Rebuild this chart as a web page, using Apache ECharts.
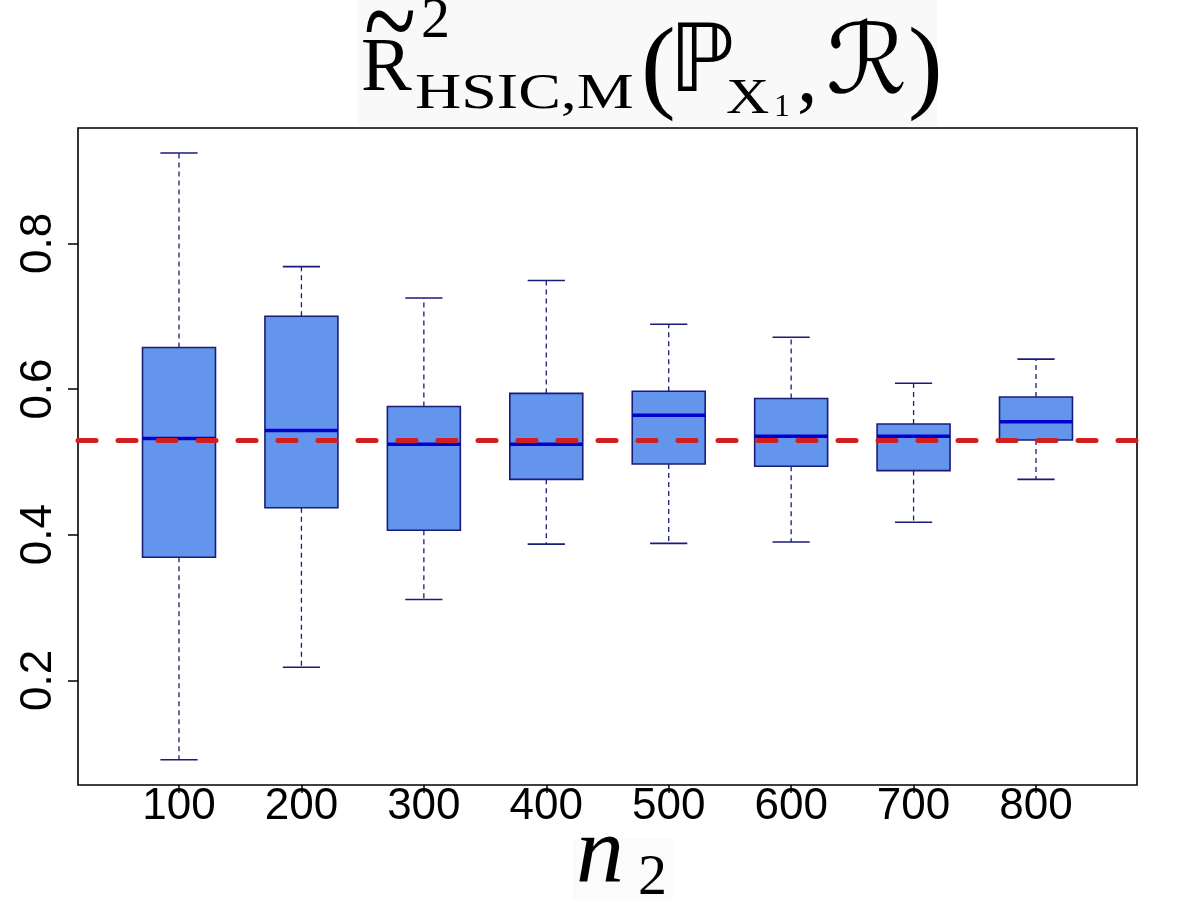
<!DOCTYPE html>
<html>
<head>
<meta charset="utf-8">
<script src="https://cdn.jsdelivr.net/npm/echarts@6/dist/echarts.min.js"></script>
<style>
  html, body { margin: 0; padding: 0; background: #fff; }
  #main { width: 1178px; height: 917px; }
</style>
</head>
<body>
<div id="main"></div>
<script>
// sample sizes n2
var categories = ['100', '200', '300', '400', '500', '600', '700', '800'];
// box statistics
var whiskerLow  = [0.091, 0.218, 0.311, 0.387, 0.388, 0.390, 0.417, 0.476];
var q1          = [0.369, 0.437, 0.406, 0.476, 0.497, 0.494, 0.488, 0.530];
var medians     = [0.532, 0.543, 0.524, 0.524, 0.564, 0.535, 0.535, 0.555];
var q3          = [0.657, 0.700, 0.576, 0.594, 0.597, 0.587, 0.552, 0.589];
var whiskerHigh = [0.924, 0.768, 0.725, 0.749, 0.689, 0.671, 0.608, 0.641];
var refValue = 0.534;
var yTicks = [0.2, 0.4, 0.6, 0.8];

var boxData = categories.map(function (c, i) {
    return [i, whiskerLow[i], q1[i], medians[i], q3[i], whiskerHigh[i]];
});
var tickIdx = categories.map(function (c, i) { return i; });

var navy = '#1b1b78';

function renderBox(params, api) {
    var i = api.value(0);
    var band = api.size([1, 0])[0];
    var half = band * 0.298;
    var cap = band * 0.152;
    var pMin = api.coord([i, api.value(1)]);
    var pQ1 = api.coord([i, api.value(2)]);
    var pMed = api.coord([i, api.value(3)]);
    var pQ3 = api.coord([i, api.value(4)]);
    var pMax = api.coord([i, api.value(5)]);
    var x = pMed[0];
    var dash = { stroke: navy, lineWidth: 1.3, lineDash: [5, 4] };
    var solid = { stroke: navy, lineWidth: 1.6 };
    return {
        type: 'group',
        children: [
            { type: 'line', shape: { x1: x, y1: pQ3[1], x2: x, y2: pMax[1] }, style: dash },
            { type: 'line', shape: { x1: x, y1: pQ1[1], x2: x, y2: pMin[1] }, style: dash },
            { type: 'line', shape: { x1: x - cap, y1: pMax[1], x2: x + cap, y2: pMax[1] }, style: solid },
            { type: 'line', shape: { x1: x - cap, y1: pMin[1], x2: x + cap, y2: pMin[1] }, style: solid },
            { type: 'rect', shape: { x: x - half, y: pQ3[1], width: half * 2, height: pQ1[1] - pQ3[1] },
              style: { fill: '#6495ED', stroke: navy, lineWidth: 1.6 } },
            { type: 'line', shape: { x1: x - half, y1: pMed[1], x2: x + half, y2: pMed[1] },
              style: { stroke: '#0000CD', lineWidth: 3.5 } }
        ]
    };
}

var serif = "'Liberation Serif', 'DejaVu Serif', serif";
var symFont = "'DejaVu Sans', 'DejaVu Serif', sans-serif";

var myChart = echarts.init(document.getElementById('main'));
var option = {
    backgroundColor: '#fff',
    animation: false,
    grid: {
        left: 78, right: 41, top: 128, bottom: 132,
        show: true, borderColor: '#000', borderWidth: 1.6, backgroundColor: 'transparent'
    },
    xAxis: {
        type: 'value',
        min: -0.825, max: 7.825,
        splitLine: { show: false },
        axisLine: { show: false, onZero: false },
        axisTick: { show: true, customValues: tickIdx, length: 8, lineStyle: { color: '#000', width: 1.5 } },
        axisLabel: {
            customValues: tickIdx,
            formatter: function (v) { return categories[Math.round(v)]; },
            fontFamily: "'Liberation Sans', Arial, sans-serif",
            fontSize: 44, color: '#000', margin: 0
        }
    },
    yAxis: {
        type: 'value',
        min: 0.0563, max: 0.9584,
        splitLine: { show: false },
        axisLine: { show: false, onZero: false },
        axisTick: { show: true, customValues: yTicks, length: 10, lineStyle: { color: '#000', width: 1.5 } },
        axisLabel: {
            customValues: yTicks,
            rotate: 90,
            formatter: function (v) { return v.toFixed(1); },
            fontFamily: "'Liberation Sans', Arial, sans-serif",
            fontSize: 44, color: '#000', margin: 17
        }
    },
    series: [{
        type: 'custom',
        renderItem: renderBox,
        data: boxData,
        z: 2,
        markLine: {
            silent: true,
            symbol: 'none',
            z: 10,
            label: { show: false },
            lineStyle: { color: '#D21E1E', width: 5, type: [18, 22], cap: 'round' },
            data: [{ yAxis: refValue }]
        }
    }],
    graphic: [
        { type: 'rect', shape: { x: 358, y: 0, width: 579, height: 126 }, style: { fill: '#f9f9f9' }, z: 0 },
        { type: 'text', x: 361, y: 70, style: { text: 'R', font: '76px ' + serif, fill: '#000', verticalAlign: 'middle' } },
        { type: 'text', x: 364, y: 29, scaleX: 1.2, scaleY: 1.6, style: { text: '~', font: '80px ' + serif, fill: '#000', verticalAlign: 'middle' } },
        { type: 'text', x: 421, y: 22, style: { text: '2', font: '58px ' + serif, fill: '#000', verticalAlign: 'middle' } },
        { type: 'text', x: 415, y: 95, scaleX: 1.28, style: { text: 'HSIC,M', font: '50px ' + serif, fill: '#000', verticalAlign: 'middle' } },
        { type: 'text', x: 641, y: 72, style: { text: '(', font: '104px ' + serif, fill: '#000', verticalAlign: 'middle' } },
        { type: 'text', x: 669, y: 67, style: { text: '\u2119', font: '94px ' + symFont, fill: '#000', verticalAlign: 'middle' } },
        { type: 'text', x: 726, y: 100, scaleX: 1.2, style: { text: 'X', font: '50px ' + serif, fill: '#000', verticalAlign: 'middle' } },
        { type: 'text', x: 774, y: 108, style: { text: '1', font: '32px ' + serif, fill: '#000', verticalAlign: 'middle' } },
        { type: 'text', x: 797, y: 80, style: { text: ',', font: '82px ' + serif, fill: '#000', verticalAlign: 'middle' } },
        { type: 'text', x: 826, y: 68, scaleX: 1.05, style: { text: '\u211B', font: '97px ' + symFont, fill: '#000', verticalAlign: 'middle' } },
        { type: 'text', x: 908, y: 72, style: { text: ')', font: '104px ' + serif, fill: '#000', verticalAlign: 'middle' } },
        { type: 'rect', shape: { x: 573, y: 838, width: 100, height: 62 }, style: { fill: '#fbfbfb' }, z: 0 },
        { type: 'text', x: 576, y: 857, style: { text: 'n', font: 'italic 96px ' + serif, fill: '#000', verticalAlign: 'middle' } },
        { type: 'text', x: 638, y: 879, style: { text: '2', font: '58px ' + serif, fill: '#000', verticalAlign: 'middle' } }
    ]
};
myChart.setOption(option);
</script>
</body>
</html>
